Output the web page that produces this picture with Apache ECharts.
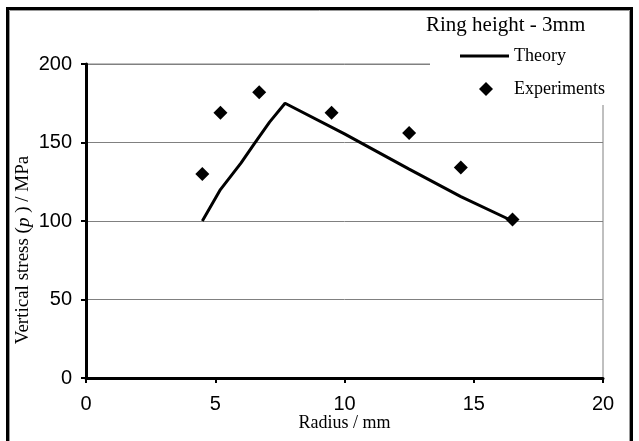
<!DOCTYPE html>
<html style="height: 100%">
<head>
	<meta charset="utf-8">
</head>
<body style="height: 100%; margin: 0; background: #fff">
<div id="container" style="width: 639px; height: 441px"></div>
<script type="text/javascript" src="https://cdn.jsdelivr.net/npm/echarts@6/dist/echarts.min.js"></script>
<script type="text/javascript">
    // Ring height 3mm: theory curve and measured points (radius mm, stress MPa)
    var theoryRadius = [4.5, 5.2, 6.0, 6.5, 7.1, 7.7, 10.0, 12.5, 14.5, 16.5];
    var theoryStress = [100, 120, 137, 149, 163, 175, 155.5, 133, 115.5, 100];
    var expRadius = [4.5, 5.2, 6.7, 9.5, 12.5, 14.5, 16.5];
    var expStress = [130, 169, 182, 169, 156, 134, 101];
    var xTicks = [0, 5, 10, 15, 20];
    var yTicks = [0, 50, 100, 150, 200];

    function pairs(xs, ys) {
        var out = [];
        for (var i = 0; i < xs.length; i++) {
            out.push([xs[i], ys[i]]);
        }
        return out;
    }

    var dom = document.getElementById("container");
    var myChart = echarts.init(dom, null, {renderer: 'canvas'});
    var serif = '"Liberation Serif", "DejaVu Serif", serif';
    var sans = '"Liberation Sans", Arial, sans-serif';

    var option = {
        backgroundColor: '#fff',
        animation: false,
        title: {
            text: 'Ring height - 3mm',
            left: 426,
            top: 15,
            padding: 0,
            z: 10,
            textStyle: {fontFamily: serif, fontSize: 21, fontWeight: 'normal', color: '#000'}
        },
        // two legends so the line and the diamond get their own icon sizes
        legend: [
            {
                left: 460,
                top: 47,
                padding: 0,
                itemWidth: 49,
                itemHeight: 3,
                icon: 'rect',
                z: 10,
                textStyle: {fontFamily: serif, fontSize: 18, color: '#000'},
                data: ['Theory']
            },
            {
                left: 479,
                top: 80,
                padding: 0,
                itemWidth: 14,
                itemHeight: 14,
                icon: 'diamond',
                z: 10,
                textStyle: {fontFamily: serif, fontSize: 18, color: '#000', padding: [0, 0, 0, 16]},
                data: ['Experiments']
            }
        ],
        graphic: [
            {
                // blank box behind the legend, hides grid lines there
                type: 'rect', z: 5,
                shape: {x: 430, y: 30, width: 190, height: 75},
                style: {fill: '#fff'}
            },
            {
                // page frame
                type: 'rect', z: 6,
                shape: {x: 7.5, y: 8.5, width: 624, height: 440},
                style: {fill: null, stroke: '#000', lineWidth: 3}
            },
            {
                type: 'rect', z: 6,
                shape: {x: 9.5, y: 10.5, width: 620, height: 436},
                style: {fill: null, stroke: '#999', lineWidth: 1}
            }
        ],
        grid: {
            left: 86,
            top: 64,
            right: 36,
            bottom: 63,
            show: true,
            borderColor: '#808080',
            borderWidth: 1
        },
        xAxis: {
            type: 'value',
            min: xTicks[0],
            max: xTicks[xTicks.length - 1],
            interval: 5,
            name: 'Radius / mm',
            nameLocation: 'middle',
            nameGap: 36,
            nameMoveOverlap: false,
            nameTextStyle: {fontFamily: serif, fontSize: 18, color: '#000'},
            axisLine: {lineStyle: {color: '#000', width: 3}},
            axisTick: {length: 5, lineStyle: {color: '#000', width: 2}},
            axisLabel: {margin: 16, fontFamily: sans, fontSize: 20, color: '#000'},
            splitLine: {show: false}
        },
        yAxis: {
            type: 'value',
            min: yTicks[0],
            max: yTicks[yTicks.length - 1],
            interval: 50,
            name: '{n|Vertical stress (}{i|p}{n| ) / MPa}',
            nameLocation: 'middle',
            nameGap: 53,
            nameMoveOverlap: false,
            nameTextStyle: {
                fontFamily: serif, fontSize: 19, color: '#000', padding: [0, 58, 0, 0],
                rich: {
                    n: {fontFamily: serif, fontSize: 19, color: '#000'},
                    i: {fontFamily: serif, fontSize: 19, fontStyle: 'italic', color: '#000'}
                }
            },
            axisLine: {onZero: false, lineStyle: {color: '#000', width: 3}},
            axisTick: {length: 5, lineStyle: {color: '#000', width: 2}},
            axisLabel: {margin: 14, fontFamily: sans, fontSize: 20, color: '#000'},
            splitLine: {lineStyle: {color: '#808080', width: 1}}
        },
        series: [
            {
                name: 'Theory',
                type: 'line',
                symbol: 'none',
                lineStyle: {color: '#000', width: 3},
                itemStyle: {color: '#000'},
                data: pairs(theoryRadius, theoryStress)
            },
            {
                name: 'Experiments',
                type: 'scatter',
                symbol: 'diamond',
                symbolSize: 14,
                itemStyle: {color: '#000', opacity: 1},
                data: pairs(expRadius, expStress)
            }
        ]
    };

    myChart.setOption(option);
</script>
</body>
</html>
